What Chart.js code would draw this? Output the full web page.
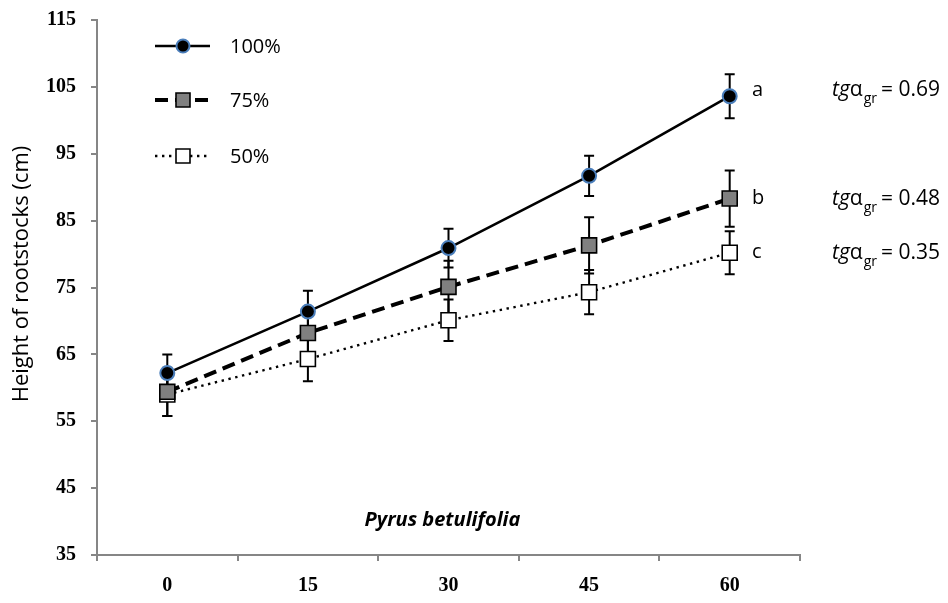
<!DOCTYPE html>
<html>
<head>
<meta charset="utf-8">
<script src="https://cdn.jsdelivr.net/npm/chart.js@4/dist/chart.umd.min.js"></script>
<style>
  html, body { margin: 0; padding: 0; background: #ffffff; }
  #wrap { width: 948px; height: 603px; position: relative; }
</style>
</head>
<body>
<div id="wrap"><canvas id="c" width="948" height="603"></canvas></div>
<script>
// Days of growth
const days = ['0', '15', '30', '45', '60'];

// Mean height (cm) per irrigation level, with standard deviations
const height100 = [62.2, 71.4, 80.9, 91.7, 103.6];
const error100  = [2.8, 3.1, 2.9, 3.0, 3.3];
const height75  = [59.4, 68.2, 75.1, 81.3, 88.3];
const error75   = [3.6, 3.7, 3.9, 4.2, 4.2];
const height50  = [59.0, 64.3, 70.1, 74.3, 80.2];
const error50   = [3.2, 3.3, 3.1, 3.3, 3.2];

const seriesNames = ['100%', '75%', '50%'];
const groupLetters = ['a', 'b', 'c'];
const growthSlopes = ['0.69', '0.48', '0.35'];

const yTicks = { min: 35, max: 115, step: 10 };
const yTitle = 'Height of rootstocks (cm)';
const species = 'Pyrus betulifolia';

const axisGray = '#868686';
const textFont = '"Open Sans", "Noto Sans", sans-serif';
const tickFont = { family: '"Liberation Serif", "Times New Roman", serif', size: 20, weight: 'bold' };

const datasets = [
  {
    label: seriesNames[0], data: height100, errors: error100,
    borderColor: '#000000', borderWidth: 2.6, borderDash: [],
    pointStyle: 'circle', pointRadius: 7, pointHoverRadius: 7,
    pointBackgroundColor: '#000000', pointBorderColor: '#4a7ebb', pointBorderWidth: 2
  },
  {
    label: seriesNames[1], data: height75, errors: error75,
    borderColor: '#000000', borderWidth: 4, borderDash: [13, 7],
    pointStyle: 'rect', pointRadius: 10.6, pointHoverRadius: 10.6,
    pointBackgroundColor: '#808080', pointBorderColor: '#000000', pointBorderWidth: 1.6
  },
  {
    label: seriesNames[2], data: height50, errors: error50,
    borderColor: '#000000', borderWidth: 2.4, borderDash: [2.4, 4.6],
    pointStyle: 'rect', pointRadius: 10.6, pointHoverRadius: 10.6,
    pointBackgroundColor: '#ffffff', pointBorderColor: '#000000', pointBorderWidth: 1.6
  }
];
datasets.forEach(d => { d.fill = false; d.tension = 0; d.borderCapStyle = 'butt'; });

// Vertical error bars with caps, drawn under the markers
const errorBars = {
  id: 'errorBars',
  beforeDatasetsDraw(chart) {
    const ctx = chart.ctx;
    const y = chart.scales.y;
    ctx.save();
    ctx.strokeStyle = '#000000';
    ctx.lineWidth = 2;
    chart.data.datasets.forEach((ds, i) => {
      const meta = chart.getDatasetMeta(i);
      meta.data.forEach((pt, j) => {
        const v = ds.data[j], e = ds.errors[j];
        const top = y.getPixelForValue(v + e);
        const bot = y.getPixelForValue(v - e);
        const x = pt.x;
        ctx.beginPath();
        ctx.moveTo(x, top); ctx.lineTo(x, bot);
        ctx.moveTo(x - 5, top); ctx.lineTo(x + 5, top);
        ctx.moveTo(x - 5, bot); ctx.lineTo(x + 5, bot);
        ctx.stroke();
      });
    });
    ctx.restore();
  }
};

// Axis title, legend, species caption and slope labels
const annotations = {
  id: 'annotations',
  afterDraw(chart) {
    const ctx = chart.ctx;
    ctx.save();

    // y axis title
    ctx.save();
    ctx.translate(22, 274);
    ctx.rotate(-Math.PI / 2);
    ctx.fillStyle = '#000000';
    ctx.font = '22px ' + textFont;
    ctx.textAlign = 'center';
    ctx.textBaseline = 'middle';
    ctx.fillText(yTitle, 0, 0);
    ctx.restore();

    // legend
    const legendY = [46, 100, 156];
    chart.data.datasets.forEach((ds, i) => {
      const ly = legendY[i];
      ctx.strokeStyle = ds.borderColor;
      ctx.lineWidth = ds.borderWidth;
      ctx.setLineDash(ds.borderDash);
      ctx.lineCap = 'butt';
      ctx.beginPath();
      ctx.moveTo(155, ly); ctx.lineTo(210, ly);
      ctx.stroke();
      ctx.setLineDash([]);
      ctx.fillStyle = ds.pointBackgroundColor;
      ctx.strokeStyle = ds.pointBorderColor;
      ctx.lineWidth = ds.pointBorderWidth;
      ctx.beginPath();
      if (ds.pointStyle === 'circle') {
        ctx.arc(183, ly, 6.5, 0, Math.PI * 2);
      } else {
        ctx.rect(183 - 7, ly - 7, 14, 14);
      }
      ctx.fill();
      ctx.stroke();
      ctx.fillStyle = '#000000';
      ctx.font = '20px ' + textFont;
      ctx.textAlign = 'left';
      ctx.textBaseline = 'middle';
      ctx.fillText(ds.label, 230, ly + 1);
    });

    // species caption
    ctx.fillStyle = '#000000';
    ctx.font = 'italic bold 20px ' + textFont;
    ctx.textAlign = 'center';
    ctx.textBaseline = 'middle';
    const xs = chart.scales.x;
    ctx.fillText(species, (xs.left + xs.right) / 2 - 6, 520);

    // group letters and growth slopes beside the last points
    const ys = chart.scales.y;
    const offsets = [-6, 0, 0];
    chart.data.datasets.forEach((ds, i) => {
      const last = ds.data.length - 1;
      const py = ys.getPixelForValue(ds.data[last]) + offsets[i];
      ctx.textBaseline = 'middle';
      ctx.textAlign = 'left';
      ctx.font = '20px ' + textFont;
      ctx.fillText(groupLetters[i], 752, py);

      let x = 832;
      ctx.font = 'italic 21px ' + textFont;
      ctx.fillText('tg', x, py);
      x += ctx.measureText('tg').width;
      ctx.font = '21px ' + textFont;
      ctx.fillText('\u03b1', x, py);
      x += ctx.measureText('\u03b1').width + 1;
      ctx.font = '14px ' + textFont;
      ctx.fillText('gr', x, py + 9);
      x += ctx.measureText('gr').width + 4;
      ctx.font = '21px ' + textFont;
      ctx.fillText('= ' + growthSlopes[i], x, py);
    });

    ctx.restore();
  }
};

new Chart(document.getElementById('c'), {
  type: 'line',
  data: { labels: days, datasets: datasets },
  options: {
    responsive: false,
    animation: false,
    events: [],
    layout: { padding: { left: 0, right: 148, top: 20, bottom: 0 } },
    plugins: { legend: { display: false }, tooltip: { enabled: false } },
    scales: {
      x: {
        type: 'category',
        offset: true,
        grid: { display: true, offset: true, drawOnChartArea: false, drawTicks: true, tickLength: 6, color: axisGray, lineWidth: 2 },
        border: { display: true, color: axisGray, width: 2 },
        ticks: { color: '#000000', padding: 13, font: tickFont },
        afterFit(scale) { scale.height = 48; scale.paddingLeft = 0; scale.paddingRight = 0; }
      },
      y: {
        min: yTicks.min, max: yTicks.max,
        grid: { display: true, drawOnChartArea: false, drawTicks: true, tickLength: 6, color: axisGray, lineWidth: 2 },
        border: { display: true, color: axisGray, width: 2 },
        ticks: { stepSize: yTicks.step, color: '#000000', padding: 15, font: tickFont },
        afterFit(scale) { scale.width = 97; scale.paddingTop = 0; scale.paddingBottom = 0; }
      }
    }
  },
  plugins: [errorBars, annotations]
});
</script>
</body>
</html>
